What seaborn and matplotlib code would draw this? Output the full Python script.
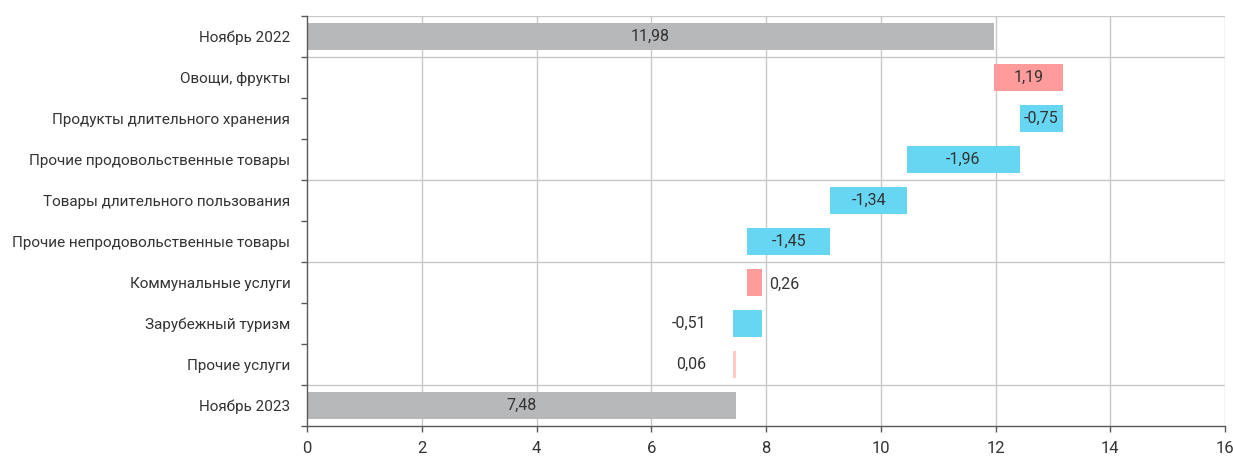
import matplotlib
matplotlib.use("Agg")
import matplotlib.pyplot as plt
import seaborn as sns
import numpy as np
import pandas as pd

categories = ["Ноябрь 2022", "Овощи, фрукты", "Продукты длительного хранения",
              "Прочие продовольственные товары", "Товары длительного пользования",
              "Прочие непродовольственные товары", "Коммунальные услуги",
              "Зарубежный туризм", "Прочие услуги", "Ноябрь 2023"]
values = [11.98, 1.19, -0.75, -1.96, -1.34, -1.45, 0.26, -0.51, 0.06, 7.48]
kinds = ["total", "delta", "delta", "delta", "delta", "delta", "delta", "delta", "delta", "total"]
value_labels = ["11,98", "1,19", "-0,75", "-1,96", "-1,34", "-1,45", "0,26", "-0,51", "0,06", "7,48"]
x_ticks = [0, 2, 4, 6, 8, 10, 12, 14, 16]

# waterfall geometry from values
starts, ends = [], []
run = 0.0
for v, k in zip(values, kinds):
    if k == "total":
        starts.append(0.0); ends.append(v); run = v
    else:
        starts.append(run); ends.append(run + v); run += v
lefts = [min(s, e) for s, e in zip(starts, ends)]
widths = [abs(e - s) for s, e in zip(starts, ends)]

colors = []
for v, k, lab in zip(values, kinds, categories):
    if k == "total":
        colors.append("#b7b8ba")
    elif lab == "Прочие услуги":
        colors.append("#ffcbc8")
    elif v > 0:
        colors.append("#ff9b9b")
    else:
        colors.append("#66d6f3")

label_pos = ["center"] * 6 + ["right", "left", "left", "center"]

sns.set_theme(style="white")
plt.rcParams['font.family'] = ['Roboto', 'DejaVu Sans']

fig = plt.figure(figsize=(12.33, 4.57), dpi=100)
ax = fig.add_axes([307/1233, 1 - 426/457, 918/1233, 410/457])

df = pd.DataFrame({"cat": categories, "w": widths})
sns.barplot(data=df, x="w", y="cat", orient="h", color="#b7b8ba", width=0.66,
            ax=ax, zorder=3, linewidth=0)
for p, l, c in zip(ax.patches, lefts, colors):
    p.set_x(l)
    p.set_facecolor(c)
    p.set_edgecolor("none")

ax.set_xlim(0, 16)
ax.set_ylim(9.5, -0.5)
ax.set_xlabel("")
ax.set_ylabel("")

# grid
grid_c = "#c8c8c8"
for x in x_ticks[1:]:
    ax.axvline(x, color=grid_c, lw=1, zorder=1)
for y in [-0.5, 0.5, 3.5, 5.5, 8.5]:
    ax.axhline(y, color=grid_c, lw=1, zorder=1)

for s in ["top", "right"]:
    ax.spines[s].set_visible(False)
for s in ["left", "bottom"]:
    ax.spines[s].set_color("#595959")
    ax.spines[s].set_linewidth(1)
    ax.spines[s].set_zorder(4)

ax.set_xticks(x_ticks)
ax.set_xticklabels([str(t) for t in x_ticks], fontsize=12, color="#333333")
ax.tick_params(axis="x", which="major", length=4, width=1, color="#595959", direction="out", bottom=True, pad=7)
ax.set_yticks(range(len(categories)))
ax.set_yticklabels(categories, fontsize=11, color="#333333")
ax.tick_params(axis="y", which="major", length=0, pad=12)
ax.set_yticks(np.arange(-0.5, len(categories), 1.0), minor=True)
ax.tick_params(axis="y", which="minor", length=4, width=1, color="#595959", direction="out", left=True)

fs = 11.5
for i, (l, w, txt, pos) in enumerate(zip(lefts, widths, value_labels, label_pos)):
    if pos == "center":
        ax.annotate(txt, (l + w / 2, i), ha="center", va="center", fontsize=fs,
                    color="#333333", zorder=5)
    elif pos == "right":
        ax.annotate(txt, (l + w, i), xytext=(5, -1), textcoords="offset points",
                    ha="left", va="center", fontsize=fs, color="#333333", zorder=5)
    else:
        ax.annotate(txt, (l, i), xytext=(-19, 0), textcoords="offset points",
                    ha="right", va="center", fontsize=fs, color="#333333", zorder=5)

fig.savefig("out.png", dpi=100)
